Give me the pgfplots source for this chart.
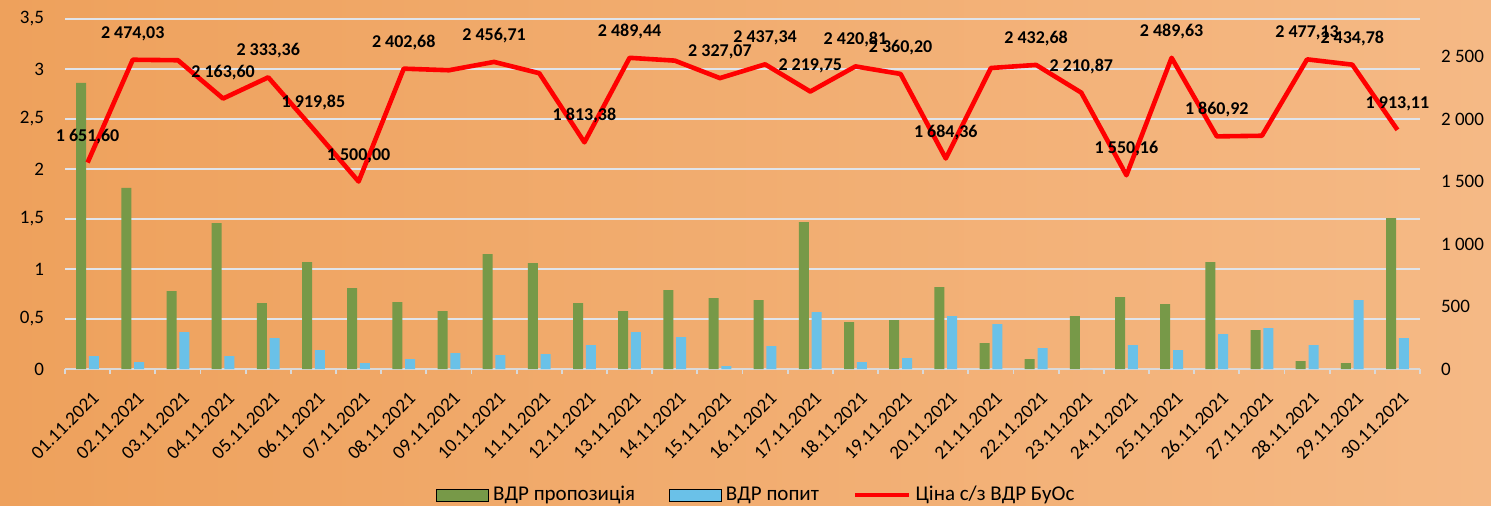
\documentclass[border=0pt]{standalone}
\usepackage{fontspec}
\setmainfont{Carlito}
\usepackage{pgfplots}
\pgfplotsset{compat=1.18}

\definecolor{bgA}{RGB}{238,161,92}
\definecolor{bgB}{RGB}{245,185,133}
\definecolor{supply}{RGB}{119,153,72}
\definecolor{demand}{RGB}{106,193,232}
\definecolor{gridc}{RGB}{224,228,234}
\definecolor{axisc}{RGB}{217,217,217}

\pgfplotsset{
  barlegend/.style={legend image code/.code={\fill[##1] (0pt,-3pt) rectangle (26pt,3pt);}},
  linelegend/.style={legend image code/.code={\draw[##1] (0pt,0pt) -- (27pt,0pt);}},
  basebox/.style={at={(32.5pt,68pt)}, anchor=south west, scale only axis,
    width=677.5pt, height=175pt, xmin=0.5, xmax=30.5,
    tick label style={font=\fontsize{9.5}{11}\selectfont}},
}

\begin{document}
\begin{tikzpicture}
\shade[left color=bgA, right color=bgB] (0pt,0pt) rectangle (745.5pt,252.5pt);

% left axis: bars
\begin{axis}[
  basebox,
  ymin=0, ymax=3.5,
  axis x line*=bottom, x axis line style={axisc, line width=0.9pt},
  axis y line*=left, y axis line style={draw=none},
  xtick={1,...,30},
  xticklabels={01.11.2021,02.11.2021,03.11.2021,04.11.2021,05.11.2021,06.11.2021,07.11.2021,08.11.2021,09.11.2021,10.11.2021,11.11.2021,12.11.2021,13.11.2021,14.11.2021,15.11.2021,16.11.2021,17.11.2021,18.11.2021,19.11.2021,20.11.2021,21.11.2021,22.11.2021,23.11.2021,24.11.2021,25.11.2021,26.11.2021,27.11.2021,28.11.2021,29.11.2021,30.11.2021},
  xticklabel style={rotate=45, anchor=north east, yshift=-2.5pt, font=\fontsize{9.5}{11}\selectfont},
  xticklabel shift=4pt,
  major tick length=0pt,
  minor xtick={0.5,1.5,...,30.5}, minor tick length=2.5pt, tick align=outside,
  minor x tick style={axisc, line width=0.9pt},
  ytick={0,0.5,1,1.5,2,2.5,3,3.5},
  yticklabels={0,{0,5},1,{1,5},2,{2,5},3,{3,5}},
  yticklabel style={xshift=-7pt},
  ymajorgrids, grid style={gridc, line width=0.8pt},
  ybar=1.4pt, bar width=5pt,
]
\addplot[fill=supply, draw=none] coordinates {
  (1,2.86) (2,1.81) (3,0.78) (4,1.46) (5,0.66) (6,1.07) (7,0.81) (8,0.67) (9,0.58) (10,1.15)
  (11,1.06) (12,0.66) (13,0.58) (14,0.79) (15,0.71) (16,0.69) (17,1.47) (18,0.47) (19,0.49) (20,0.82)
  (21,0.26) (22,0.10) (23,0.53) (24,0.72) (25,0.65) (26,1.07) (27,0.39) (28,0.08) (29,0.06) (30,1.51)};
\addplot[fill=demand, draw=none] coordinates {
  (1,0.13) (2,0.07) (3,0.37) (4,0.13) (5,0.31) (6,0.19) (7,0.06) (8,0.10) (9,0.16) (10,0.14)
  (11,0.15) (12,0.24) (13,0.37) (14,0.32) (15,0.03) (16,0.23) (17,0.57) (18,0.07) (19,0.11) (20,0.53)
  (21,0.45) (22,0.21) (23,0) (24,0.24) (25,0.19) (26,0.35) (27,0.41) (28,0.24) (29,0.69) (30,0.31)};
\end{axis}

% right axis: price line
\begin{axis}[
  basebox,
  ymin=0, ymax=2800,
  hide x axis,
  axis y line*=right, y axis line style={draw=none},
  major tick length=0pt,
  ytick={0,500,1000,1500,2000,2500},
  yticklabels={0,500,1 000,1 500,2 000,2 500},
  yticklabel style={anchor=west, xshift=7pt},
  legend columns=3,
  legend style={at={(0.511,-0.36)}, anchor=center, draw=none, fill=none,
    font=\fontsize{10.5}{12}\selectfont,
    /tikz/every even column/.append style={column sep=15pt}},
]
\addlegendimage{barlegend, fill=supply}
\addlegendimage{barlegend, fill=demand}
\addplot[red, line width=2.3pt, line join=round, linelegend,
  nodes near coords, point meta=explicit symbolic,
  every node near coord/.append style={black, font=\bfseries\fontsize{9}{10}\selectfont, yshift=5pt}]
  coordinates {
  (1,1651.60) [1 651,60] (2,2474.03) [2 474,03] (3,2470) [] (4,2163.60) [2 163,60]
  (5,2333.36) [2 333,36] (6,1919.85) [1 919,85] (7,1500.00) [1 500,00] (8,2402.68) [2 402,68]
  (9,2390) [] (10,2456.71) [2 456,71] (11,2366) [] (12,1813.38) [1 813,38]
  (13,2489.44) [2 489,44] (14,2467) [] (15,2327.07) [2 327,07] (16,2437.34) [2 437,34]
  (17,2219.75) [2 219,75] (18,2420.81) [2 420,81] (19,2360.20) [2 360,20] (20,1684.36) [1 684,36]
  (21,2408) [] (22,2432.68) [2 432,68] (23,2210.87) [2 210,87] (24,1550.16) [1 550,16]
  (25,2489.63) [2 489,63] (26,1860.92) [1 860,92] (27,1866) [] (28,2477.13) [2 477,13]
  (29,2434.78) [2 434,78] (30,1913.11) [1 913,11]};
\legend{ВДР пропозиція, ВДР попит, Ціна с/з ВДР БуОс}
\end{axis}
\end{tikzpicture}
\end{document}
